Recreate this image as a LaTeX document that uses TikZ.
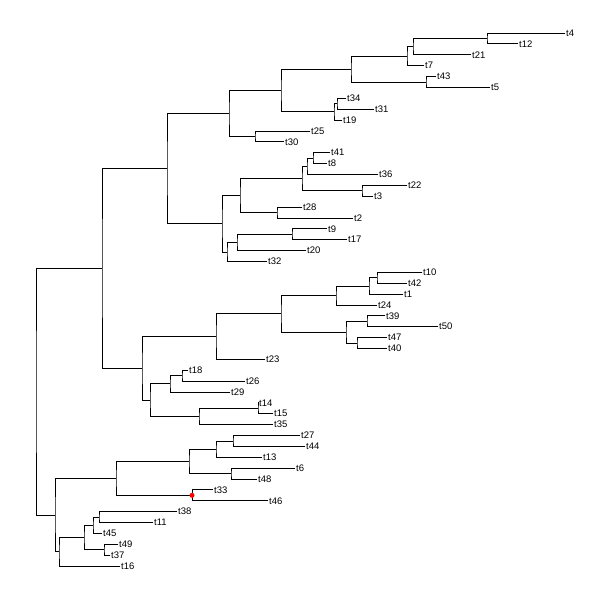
\documentclass[tikz,border=0pt]{standalone}
\usepackage{fontspec}
\setmainfont{Liberation Sans}
\usetikzlibrary{calc}
\tikzset{br/.style={line width=0.8pt,line cap=rect}, lab/.style={anchor=west,inner sep=1pt,font=\fontsize{9.5}{11}\selectfont}}
\newcommand\tipnode[3]{\coordinate (#1) at (#3,{33+(#2-1)*10.878});
  \node[lab] (l#1) at (#1) {#1};}
\newcommand\inode[4]{%
  \path let \p1=($(#3)!.5!(#4)$) in coordinate (#1) at (#2,\y1);
  \draw[br] (#3) -| (#1) |- (#4);}
\begin{document}
\begin{tikzpicture}[x=1pt,y=-1pt]
\useasboundingbox (0,0) rectangle (600,600);
\fill[white] (0,0) rectangle (600,600);
\tipnode{t4}{1}{565}
\tipnode{t12}{2}{518}
\tipnode{t21}{3}{471}
\tipnode{t7}{4}{424}
\tipnode{t43}{5}{436}
\tipnode{t5}{6}{490}
\tipnode{t34}{7}{346}
\tipnode{t31}{8}{374}
\tipnode{t19}{9}{342}
\tipnode{t25}{10}{310}
\tipnode{t30}{11}{284}
\tipnode{t41}{12}{330}
\tipnode{t8}{13}{327}
\tipnode{t36}{14}{378}
\tipnode{t22}{15}{407}
\tipnode{t3}{16}{373}
\tipnode{t28}{17}{302}
\tipnode{t2}{18}{353}
\tipnode{t9}{19}{327}
\tipnode{t17}{20}{347}
\tipnode{t20}{21}{306}
\tipnode{t32}{22}{267}
\tipnode{t10}{23}{422}
\tipnode{t42}{24}{407}
\tipnode{t1}{25}{403}
\tipnode{t24}{26}{377}
\tipnode{t39}{27}{385}
\tipnode{t50}{28}{438}
\tipnode{t47}{29}{387}
\tipnode{t40}{30}{387}
\tipnode{t23}{31}{265}
\tipnode{t18}{32}{188}
\tipnode{t26}{33}{245}
\tipnode{t29}{34}{230}
\tipnode{t14}{35}{258}
\tipnode{t15}{36}{273}
\tipnode{t35}{37}{273}
\tipnode{t27}{38}{300}
\tipnode{t44}{39}{305}
\tipnode{t13}{40}{262}
\tipnode{t6}{41}{295}
\tipnode{t48}{42}{257}
\tipnode{t33}{43}{213}
\tipnode{t46}{44}{268}
\tipnode{t38}{45}{177}
\tipnode{t11}{46}{153}
\tipnode{t45}{47}{102}
\tipnode{t49}{48}{118}
\tipnode{t37}{49}{110}
\tipnode{t16}{50}{120}
\inode{a1}{487}{t4}{t12}
\inode{a2}{413}{a1}{t21}
\inode{a3}{407}{a2}{t7}
\inode{a4}{426}{t43}{t5}
\inode{a5}{351}{a3}{a4}
\inode{a6}{337}{t34}{t31}
\inode{a7}{334}{a6}{t19}
\inode{a8}{281}{a5}{a7}
\inode{a9}{255}{t25}{t30}
\inode{a10}{229}{a8}{a9}
\inode{b1}{313}{t41}{t8}
\inode{b2}{307}{b1}{t36}
\inode{b3}{362}{t22}{t3}
\inode{b4}{302}{b2}{b3}
\inode{b5}{277}{t28}{t2}
\inode{b6}{240}{b4}{b5}
\inode{b7}{292}{t9}{t17}
\inode{b8}{237}{b7}{t20}
\inode{b9}{227}{b8}{t32}
\inode{b10}{222}{b6}{b9}
\inode{c1}{167}{a10}{b10}
\inode{d1}{377}{t10}{t42}
\inode{d2}{369}{d1}{t1}
\inode{d3}{336}{d2}{t24}
\inode{d4}{367}{t39}{t50}
\inode{d5}{357}{t47}{t40}
\inode{d6}{346}{d4}{d5}
\inode{d7}{281}{d3}{d6}
\inode{d8}{216}{d7}{t23}
\inode{e1}{182}{t18}{t26}
\inode{e2}{170}{e1}{t29}
\inode{e3}{258}{t14}{t15}
\inode{e4}{199}{e3}{t35}
\inode{e5}{150}{e2}{e4}
\inode{f1}{142}{d8}{e5}
\inode{g1}{102}{c1}{f1}
\inode{h1}{233}{t27}{t44}
\inode{h2}{216}{h1}{t13}
\inode{h3}{231}{t6}{t48}
\inode{h4}{189}{h2}{h3}
\inode{h5}{192}{t33}{t46}
\inode{h6}{116}{h4}{h5}
\inode{i1}{99}{t38}{t11}
\inode{i2}{93}{i1}{t45}
\inode{i3}{104}{t49}{t37}
\inode{i4}{84}{i2}{i3}
\inode{i5}{59}{i4}{t16}
\inode{i6}{55}{h6}{i5}
\inode{root}{36}{g1}{i6}
\fill[red] (h5) circle (2.5);
\end{tikzpicture}
\end{document}
